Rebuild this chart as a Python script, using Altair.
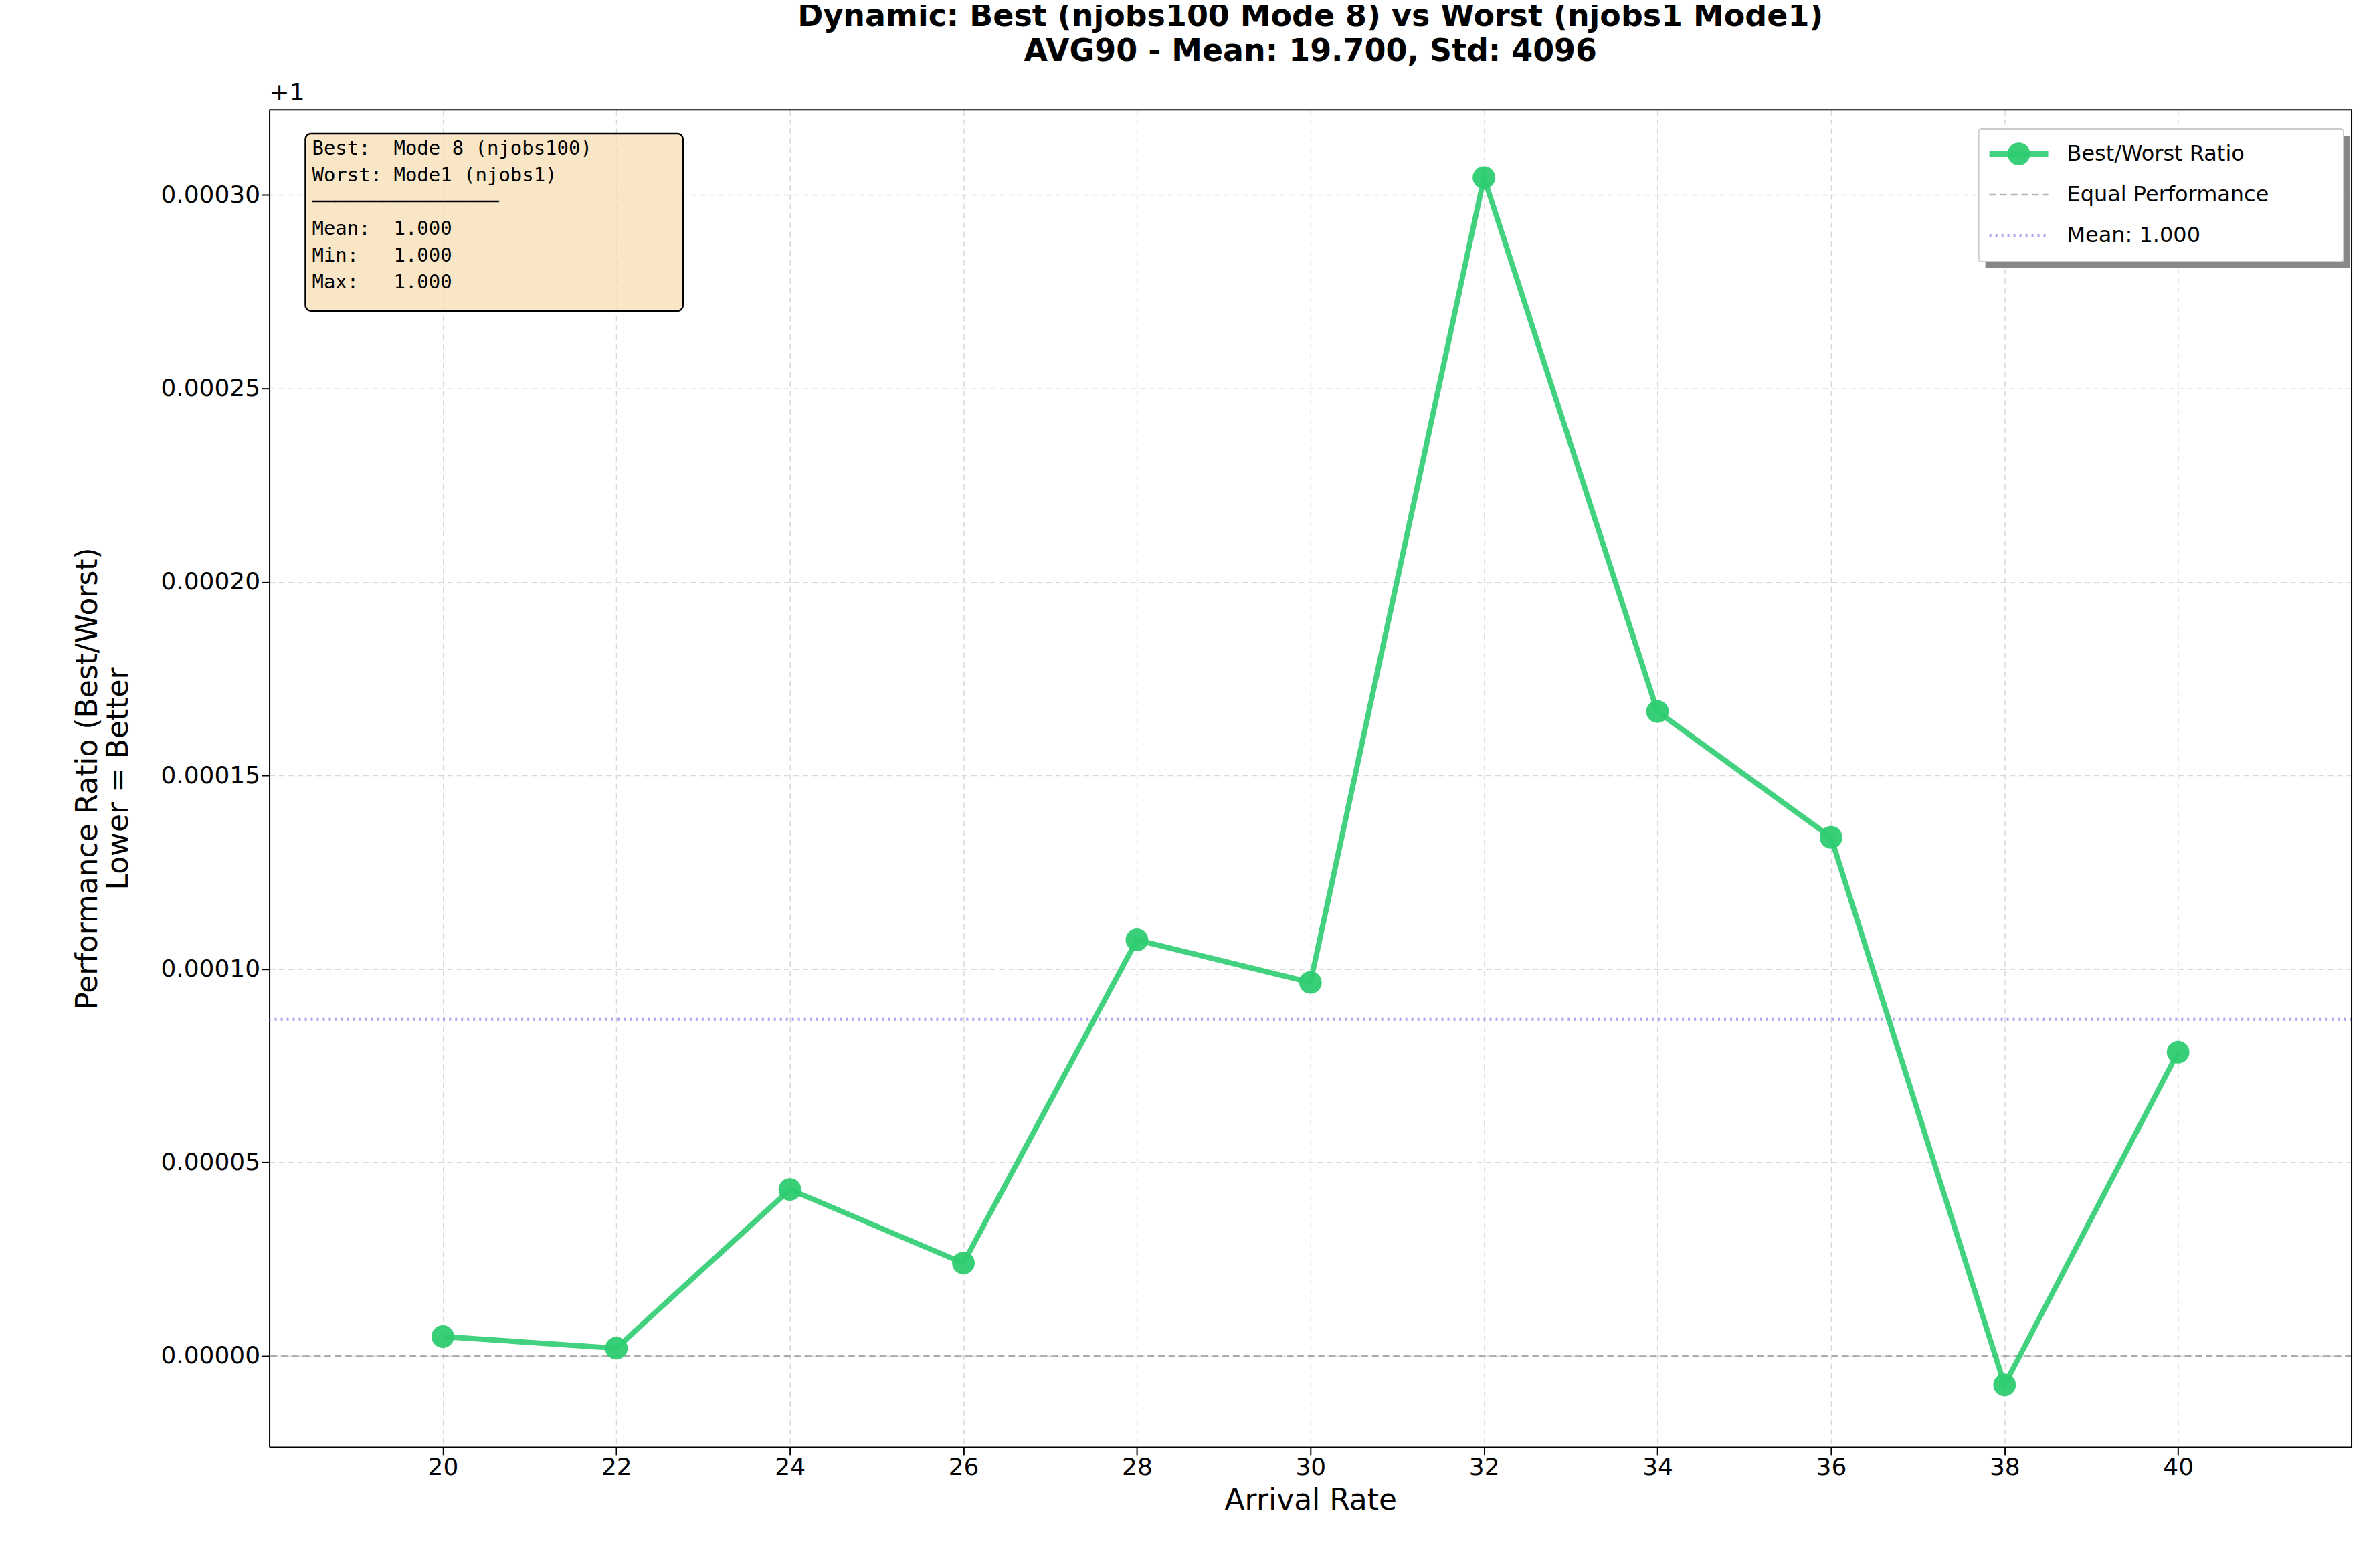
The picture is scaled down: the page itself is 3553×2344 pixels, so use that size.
import altair as alt
import pandas as pd

rates = [20, 22, 24, 26, 28, 30, 32, 34, 36, 38, 40]
# ratio minus 1
ratio_offset = [0.000005, 0.000002, 0.000043, 0.000024, 0.0001075, 0.0000965,
                0.0003045, 0.0001665, 0.000134, -0.0000075, 0.0000785]
mean_offset = 0.000087

W, H = 3116, 2001
GREEN = "#2ecc71"
NB = "\u00a0"

df = pd.DataFrame({"rate": rates, "ratio": ratio_offset})

axis_common = dict(gridDash=[8, 6], gridColor="#d8d8d8", gridWidth=1.5, labelFontSize=36,
                   titleFontSize=44, titleFontWeight="normal", tickSize=12, tickWidth=2,
                   domainColor="black", domainWidth=2, tickColor="black", labelColor="black",
                   titleColor="black")
x = alt.X("rate:Q", title="Arrival Rate", scale=alt.Scale(domain=[18, 42], nice=False),
          axis=alt.Axis(values=list(range(20, 41, 2)), format="d", titlePadding=10, **axis_common))
y = alt.Y("ratio:Q", title=["Performance Ratio (Best/Worst)", "Lower = Better"],
          scale=alt.Scale(domain=[-0.0000235, 0.000322], nice=False, zero=False),
          axis=alt.Axis(values=[0, 0.00005, 0.0001, 0.00015, 0.0002, 0.00025, 0.0003],
                        format=".5f", titlePadding=40, **axis_common))

line = alt.Chart(df).mark_line(color=GREEN, strokeWidth=8, opacity=0.9).encode(x=x, y=y)
pts = alt.Chart(df).mark_circle(color=GREEN, size=1150, opacity=0.95).encode(x="rate:Q", y="ratio:Q")

equal = alt.Chart(pd.DataFrame({"v": [0.0]})).mark_rule(
    color="gray", strokeDash=[10, 6], strokeWidth=2.5, opacity=0.6).encode(y="v:Q")
meanr = alt.Chart(pd.DataFrame({"v": [mean_offset]})).mark_rule(
    color="#8c7ae6", strokeDash=[3, 6], strokeWidth=4, opacity=0.7).encode(y="v:Q")

one = pd.DataFrame({"a": [0]})
offset_txt = alt.Chart(one).mark_text(text="+1", fontSize=36, align="left", baseline="bottom").encode(
    x=alt.value(0), y=alt.value(-6))

# plot frame top/right
frame = [alt.Chart(one).mark_rule(color="black", strokeWidth=2).encode(
             x=alt.value(0), x2=alt.value(W), y=alt.value(0)),
         alt.Chart(one).mark_rule(color="black", strokeWidth=2).encode(
             x=alt.value(W), y=alt.value(0), y2=alt.value(H))]

# stats box
stats = "\n".join(["Best:  Mode 8 (njobs100)", "Worst: Mode1 (njobs1)", "\u2500" * 16,
                   "Mean:  1.000", "Min:   1.000", "Max:   1.000"]).replace(" ", NB)
box = alt.Chart(one).mark_rect(fill="#f5deb3", fillOpacity=0.75, stroke="black", strokeWidth=2.5,
                               cornerRadius=8).encode(
    x=alt.value(54), x2=alt.value(619), y=alt.value(36), y2=alt.value(301))
box_txt = alt.Chart(one).mark_text(text=stats, font="DejaVu Sans Mono", fontSize=29, align="left",
                                   baseline="top", lineBreak="\n", lineHeight=40).encode(
    x=alt.value(64), y=alt.value(44))

# legend
leg_shadow = alt.Chart(one).mark_rect(fill="#888").encode(
    x=alt.value(2568), x2=alt.value(3114), y=alt.value(39), y2=alt.value(237))
leg_box = alt.Chart(one).mark_rect(fill="white", stroke="#ccc", strokeWidth=2, cornerRadius=4).encode(
    x=alt.value(2558), x2=alt.value(3104), y=alt.value(29), y2=alt.value(227))
leg_items = []
styles = [(GREEN, [1, 0], 8, 0.9), ("gray", [10, 6], 2.5, 0.6), ("#8c7ae6", [3, 6], 4, 0.7)]
labels = ["Best/Worst Ratio", "Equal Performance", "Mean: 1.000"]
for i, ((c, d, sw, op), lab) in enumerate(zip(styles, labels)):
    yy = 66 + 61 * i
    leg_items.append(alt.Chart(one).mark_rule(color=c, strokeDash=d, strokeWidth=sw, opacity=op).encode(
        x=alt.value(2574), x2=alt.value(2662), y=alt.value(yy)))
    leg_items.append(alt.Chart(one).mark_text(text=lab, fontSize=32, align="left", baseline="middle").encode(
        x=alt.value(2690), y=alt.value(yy)))
leg_items.append(alt.Chart(one).mark_circle(color=GREEN, size=1150, opacity=0.95).encode(
    x=alt.value(2618), y=alt.value(66)))

chart = alt.layer(equal, meanr, line, pts, offset_txt, *frame, box, box_txt, leg_shadow, leg_box,
                  *leg_items).properties(
    width=W, height=H,
    title=alt.Title(["Dynamic: Best (njobs100 Mode 8) vs Worst (njobs1 Mode1)",
                     "AVG90 - Mean: 19.700, Std: 4096"], fontSize=46, fontWeight="bold",
                    anchor="middle", offset=20, lineHeight=52, color="black"),
    autosize=alt.AutoSizeParams(type="none"),
    padding={"left": 395, "top": 155, "right": 30, "bottom": 180},
).configure_view(stroke="black", strokeWidth=2).configure(font="DejaVu Sans")

chart.save("out.html", embed_options={"renderer": "svg", "actions": False})
